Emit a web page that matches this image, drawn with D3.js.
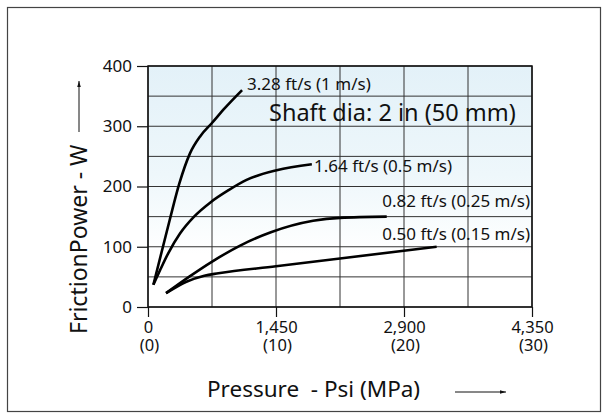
<!DOCTYPE html>
<html>
<head>
<meta charset="utf-8">
<script src="https://cdn.jsdelivr.net/npm/d3@7/dist/d3.min.js"></script>
<style>
  html, body { margin: 0; padding: 0; background: #fff; }
  svg { display: block; }
  text { font-family: "Noto Sans", "Open Sans", sans-serif; fill: #111; white-space: pre; }
</style>
</head>
<body>
<svg id="chart" width="608" height="420"></svg>
<script>
// Friction power vs. pressure, shaft diameter 2 in (50 mm)
// x values in MPa, y values in W
const speedLabels = ["3.28 ft/s (1 m/s)", "1.64 ft/s (0.5 m/s)", "0.82 ft/s (0.25 m/s)", "0.50 ft/s (0.15 m/s)"];

const speed1 = [[0.42, 37], [1.69, 144], [2.45, 205], [3.28, 255], [4.1, 284], [4.98, 305], [6.0, 330], [7.35, 360]];
const speed2 = [[0.42, 37], [0.94, 61], [1.6, 90], [2.5, 122], [3.6, 150], [4.9, 174], [6.3, 194], [7.7, 211], [10.05, 227], [12.8, 237]];
const speed3 = [[1.41, 23], [3.2, 50], [4.98, 75], [7.2, 102], [9.6, 124], [12.9, 143], [15.0, 148], [18.65, 150]];
const speed4 = [[1.41, 23], [3.0, 42], [4.4, 52], [5.5, 56], [10.0, 67.5], [15.0, 80.5], [22.55, 100]];

const xTicksMPa = [0, 10, 20, 30];
const xTickPsi = ["0", "1,450", "2,900", "4,350"];
const xTickMPa = ["(0)", "(10)", "(20)", "(30)"];
const yTicks = [0, 100, 200, 300, 400];

const svg = d3.select("#chart");

// outer frame
svg.append("rect")
  .attr("x", 7.5).attr("y", 7.5).attr("width", 593).attr("height", 404)
  .attr("fill", "#fff").attr("stroke", "#444").attr("stroke-width", 1.2);

const plot = { left: 148, right: 532, top: 66, bottom: 307 };
const x = d3.scaleLinear().domain([0, 30]).range([plot.left, plot.right]);
const y = d3.scaleLinear().domain([0, 400]).range([plot.bottom, plot.top]);

// background shading
const defs = svg.append("defs");
const grad = defs.append("linearGradient").attr("id", "bg").attr("x1", 0).attr("y1", 0).attr("x2", 0).attr("y2", 1);
grad.append("stop").attr("offset", "0%").attr("stop-color", "#e3f1f8");
grad.append("stop").attr("offset", "45%").attr("stop-color", "#eef7fb");
grad.append("stop").attr("offset", "78%").attr("stop-color", "#ffffff");
grad.append("stop").attr("offset", "100%").attr("stop-color", "#ffffff");

svg.append("rect")
  .attr("x", plot.left).attr("y", plot.top)
  .attr("width", plot.right - plot.left).attr("height", plot.bottom - plot.top)
  .attr("fill", "url(#bg)");

// grid
const grid = svg.append("g").attr("stroke", "#333").attr("stroke-width", 1);
d3.range(0, 30.01, 5).forEach(v => {
  grid.append("line").attr("x1", x(v)).attr("x2", x(v)).attr("y1", plot.top).attr("y2", plot.bottom);
});
d3.range(0, 400.01, 50).forEach(v => {
  grid.append("line").attr("x1", plot.left).attr("x2", plot.right).attr("y1", y(v)).attr("y2", y(v));
});

// plot border
svg.append("rect")
  .attr("x", plot.left).attr("y", plot.top)
  .attr("width", plot.right - plot.left).attr("height", plot.bottom - plot.top)
  .attr("fill", "none").attr("stroke", "#111").attr("stroke-width", 1.5);

// y axis
const yAxis = d3.axisLeft(y).tickValues(yTicks).tickSize(11).tickPadding(5).tickFormat(d3.format("d"));
const yg = svg.append("g").attr("transform", `translate(${plot.left},0)`).call(yAxis);
yg.select(".domain").remove();
yg.selectAll(".tick line").attr("stroke", "#111").attr("stroke-width", 1.2);
yg.selectAll(".tick text").attr("font-size", 17).attr("fill", "#111")
  .style("font-family", '"Noto Sans", sans-serif');

// x axis: psi on the first line, MPa in parentheses below
const xAxis = d3.axisBottom(x).tickValues(xTicksMPa).tickSize(10).tickFormat((d, i) => xTickPsi[i]);
const xg = svg.append("g").attr("transform", `translate(0,${plot.bottom})`).call(xAxis);
xg.select(".domain").remove();
xg.selectAll(".tick line").attr("stroke", "#111").attr("stroke-width", 1.2);
xg.selectAll(".tick text").remove();
xg.selectAll(".tick").each(function (d, i) {
  const t = d3.select(this).append("text")
    .attr("y", 26).attr("text-anchor", "middle").attr("font-size", 16.5);
  t.append("tspan").attr("x", 0).text(xTickPsi[i]);
  t.append("tspan").attr("x", 1).attr("dy", 18).text(xTickMPa[i]);
});

// curves
const line = d3.line().x(d => x(d[0])).y(d => y(d[1])).curve(d3.curveMonotoneX);
[speed1, speed2, speed3, speed4].forEach(s => {
  svg.append("path").attr("d", line(s))
    .attr("fill", "none").attr("stroke", "#000").attr("stroke-width", 2.6);
});

// curve labels
const lbl = svg.append("g").attr("font-size", 17);
lbl.append("text").attr("x", 247).attr("y", 90).text(speedLabels[0]);
lbl.append("text").attr("x", 314).attr("y", 172).text(speedLabels[1]);
lbl.append("text").attr("x", 530).attr("y", 207).attr("text-anchor", "end").text(speedLabels[2]);
lbl.append("text").attr("x", 530).attr("y", 240).attr("text-anchor", "end").text(speedLabels[3]);

svg.append("text").attr("x", 269).attr("y", 121).attr("font-size", 23.5).text("Shaft dia: 2 in (50 mm)");

// axis titles
svg.append("text").attr("x", 207).attr("y", 397).attr("font-size", 22.5).text("Pressure  - Psi (MPa)");
svg.append("text").attr("transform", "translate(87,334) rotate(-90)").attr("font-size", 23).text("FrictionPower - W");

// direction arrows
defs.append("marker").attr("id", "arrow").attr("viewBox", "0 0 10 10")
  .attr("refX", 10).attr("refY", 5).attr("markerWidth", 6).attr("markerHeight", 6)
  .attr("orient", "auto")
  .append("path").attr("d", "M0,2 L10,5 L0,8 Z").attr("fill", "#111");

svg.append("line").attr("x1", 455).attr("x2", 506).attr("y1", 392).attr("y2", 392)
  .attr("stroke", "#111").attr("stroke-width", 1).attr("marker-end", "url(#arrow)");
svg.append("line").attr("x1", 79).attr("x2", 79).attr("y1", 132).attr("y2", 81)
  .attr("stroke", "#111").attr("stroke-width", 1).attr("marker-end", "url(#arrow)");
</script>
</body>
</html>
